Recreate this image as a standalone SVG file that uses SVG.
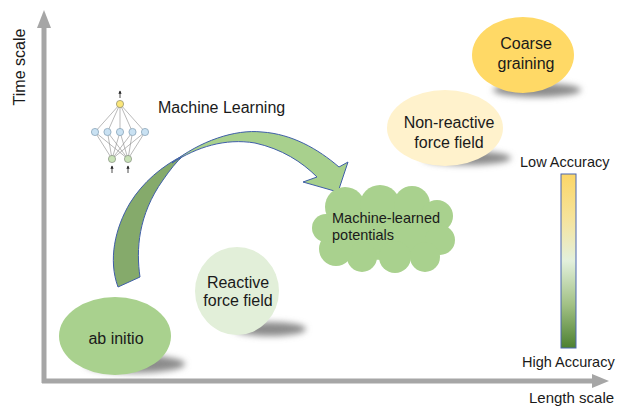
<svg xmlns="http://www.w3.org/2000/svg" width="621" height="406" viewBox="0 0 621 406">
<defs>
<style>
text{font-family:"Liberation Sans",Arial,sans-serif;fill:#1a1a1a}
.lbl{font-size:16px;text-anchor:middle}
.ax{fill:#a6a6a6}
.nn{stroke:#8a8a8a;stroke-width:0.6;fill:none}
.shadow{fill:#8c8c8c;filter:url(#blur)}
</style>
<filter id="blur" x="-30%" y="-100%" width="160%" height="300%"><feGaussianBlur stdDeviation="3"/></filter>
<linearGradient id="acc" x1="0" y1="0" x2="0" y2="1">
<stop offset="0" stop-color="#fbd667"/>
<stop offset="0.25" stop-color="#f6e39a"/>
<stop offset="0.5" stop-color="#e3f0dc"/>
<stop offset="0.75" stop-color="#a2c185"/>
<stop offset="1" stop-color="#4d8031"/>
</linearGradient>
<marker id="sa" viewBox="0 0 6 6" refX="5" refY="3" markerWidth="4" markerHeight="4" orient="auto"><path d="M0,0 L6,3 L0,6 Z" fill="#222"/></marker>
</defs>
<rect width="621" height="406" fill="#fff"/>

<g id="axes">
<rect class="ax" x="41.5" y="26" width="5" height="357"/>
<polygon class="ax" points="37,28 51,28 44,10"/>
<rect class="ax" x="42" y="378.5" width="552" height="5"/>
<polygon class="ax" points="592,374 592,388 609,381"/>
<text x="25" y="67" transform="rotate(-90 25 67)" style="font-size:16px;text-anchor:middle">Time scale</text>
<text x="529" y="403" style="font-size:15px">Length scale</text>
</g>

<g id="neural-net">
<g class="nn">
<line x1="120" y1="104" x2="95" y2="132"/><line x1="120" y1="104" x2="107.5" y2="132"/><line x1="120" y1="104" x2="120" y2="132"/><line x1="120" y1="104" x2="132.5" y2="132"/><line x1="120" y1="104" x2="145" y2="132"/>
<line x1="95" y1="132" x2="112" y2="159"/><line x1="95" y1="132" x2="128" y2="159"/>
<line x1="107.5" y1="132" x2="112" y2="159"/><line x1="107.5" y1="132" x2="128" y2="159"/>
<line x1="120" y1="132" x2="112" y2="159"/><line x1="120" y1="132" x2="128" y2="159"/>
<line x1="132.5" y1="132" x2="112" y2="159"/><line x1="132.5" y1="132" x2="128" y2="159"/>
<line x1="145" y1="132" x2="112" y2="159"/><line x1="145" y1="132" x2="128" y2="159"/>
</g>
<g stroke="#222" stroke-width="0.8" marker-end="url(#sa)">
<line x1="120" y1="98" x2="120" y2="91"/>
<line x1="112" y1="173" x2="112" y2="166"/>
<line x1="128" y1="173" x2="128" y2="166"/>
</g>
<circle cx="120" cy="104" r="3.6" fill="#fbe67a" stroke="#8a8a6a" stroke-width="0.7"/>
<g fill="#c9e1f2" stroke="#7f9cb2" stroke-width="0.7">
<circle cx="95" cy="132" r="3.6"/><circle cx="107.5" cy="132" r="3.6"/><circle cx="120" cy="132" r="3.6"/><circle cx="132.5" cy="132" r="3.6"/><circle cx="145" cy="132" r="3.6"/>
</g>
<g fill="#c8e2b6" stroke="#858f80" stroke-width="0.7">
<circle cx="112" cy="159" r="3.6"/><circle cx="128" cy="159" r="3.6"/>
</g>
<text x="158" y="113" style="font-size:16px">Machine Learning</text>
</g>

<g id="connectors">
<path d="M118,287 L140,277 C136,250 138,215 163,180 C170,170 176,162 184,155 C162,166 143,182 130,203 C115,228 108,260 118,287 Z" fill="#85aa6b" stroke="#3f5ea8" stroke-width="1"/>
<path d="M172,163 C200,141 235,129 262,132 C292,134 318,149 339,167 L348,162 L338,192 L303,182 L317,177 C302,162 282,149 255,143 C225,138 197,147 172,163 Z" fill="#a8d08d" stroke="#3f5ea8" stroke-width="1"/>
</g>

<g id="ab-initio">
<ellipse class="shadow" cx="135" cy="364" rx="50" ry="9"/>
<ellipse cx="115" cy="336" rx="56" ry="39" fill="#a9d18e"/>
<text class="lbl" x="116" y="344">ab initio</text>
</g>

<g id="reactive-force-field">
<ellipse class="shadow" cx="270" cy="329" rx="36" ry="7"/>
<ellipse cx="237" cy="291" rx="42" ry="44" fill="#e2efd9"/>
<text class="lbl" x="238" y="288">Reactive</text>
<text class="lbl" x="238" y="306">force field</text>
</g>

<g id="machine-learned-potentials">
<g fill="#a9d18e">
<ellipse cx="383" cy="230" rx="55" ry="30"/>
<circle cx="345" cy="207" r="20"/>
<circle cx="380" cy="205" r="20"/>
<circle cx="412" cy="204" r="18"/>
<circle cx="437" cy="216" r="16"/>
<circle cx="440" cy="240" r="15"/>
<circle cx="425" cy="257" r="15"/>
<circle cx="395" cy="257" r="16"/>
<circle cx="362" cy="257" r="15"/>
<circle cx="336" cy="249" r="17"/>
<circle cx="326" cy="228" r="14"/>
</g>
<text x="332" y="223" style="font-size:14.5px">Machine-learned</text>
<text x="332" y="240" style="font-size:14.5px">potentials</text>
</g>

<g id="non-reactive-force-field">
<ellipse class="shadow" cx="467" cy="158" rx="44" ry="7"/>
<ellipse cx="445" cy="128" rx="58" ry="38" fill="#fff2cc"/>
<text class="lbl" x="449" y="128">Non-reactive</text>
<text class="lbl" x="449" y="148">force field</text>
</g>

<g id="coarse-graining">
<ellipse class="shadow" cx="537" cy="90" rx="44" ry="7"/>
<ellipse cx="523" cy="55" rx="51" ry="38" fill="#ffd966"/>
<text class="lbl" x="526" y="49">Coarse</text>
<text class="lbl" x="526" y="69">graining</text>
</g>

<g id="accuracy-scale">
<text x="520" y="167" style="font-size:14.5px">Low Accuracy</text>
<rect x="561" y="174" width="15" height="174" fill="url(#acc)" stroke="#4a67b0" stroke-width="1"/>
<text x="522" y="367" style="font-size:14.5px">High Accuracy</text>
</g>
</svg>
